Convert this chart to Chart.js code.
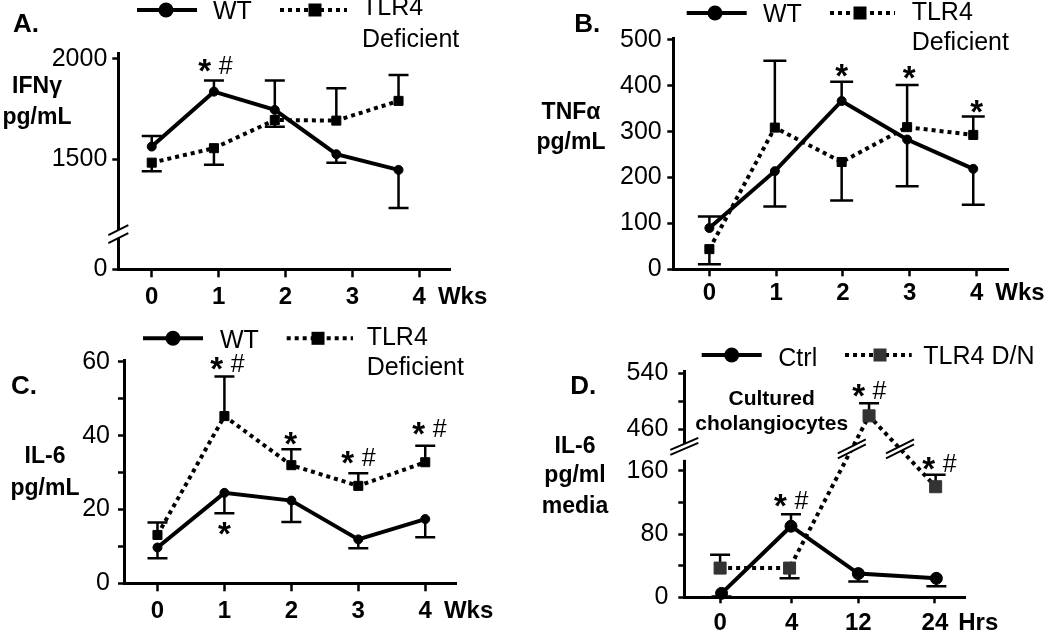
<!DOCTYPE html>
<html>
<head>
<meta charset="utf-8">
<script src="https://cdn.jsdelivr.net/npm/chart.js@4.4.1/dist/chart.umd.min.js"></script>
<style>
  html, body { margin: 0; padding: 0; background: #fff; }
  #wrap { position: relative; width: 1050px; height: 633px; overflow: hidden; }
  .panel { position: absolute; }
</style>
</head>
<body>
<div id="wrap"></div>
<script>
// ---- data ----
// A. IFNγ (pg/mL), weeks
const weekTicks = [0, 1, 2, 3, 4];
const weekLabels = ['0', '1', '2', '3', '4'];
const ifnX = [0, 0.93, 1.84, 2.76, 3.69];
const ifnWT = [1563, 1836, 1745, 1525, 1447];
const ifnWTErr = [1616, 1891, 1891, 1483, 1258];
const ifnTLR4 = [1483, 1555, 1695, 1692, 1790];
const ifnTLR4Err = [1440, 1472, 1662, 1853, 1919];
const ifnYTicks = [0, 1500, 2000];
const ifnYLabels = ['0', '1500', '2000'];

// B. TNFα (pg/mL)
const tnfX = [0, 0.98, 1.98, 2.96, 3.95];
const tnfWT = [90, 214, 367, 283, 219];
const tnfWTErr = [115, 137, 409, 181, 141];
const tnfTLR4 = [44, 309, 234, 310, 293];
const tnfTLR4Err = [11, 455, 150, 402, 333];
const tnfYTicks = [0, 100, 200, 300, 400, 500];
const tnfYLabels = ['0', '100', '200', '300', '400', '500'];

// C. IL-6 (pg/mL) in vivo
const il6X = [0, 1, 2, 3, 4];
const il6WT = [9.7, 24.5, 22.4, 11.9, 17.4];
const il6WTErr = [6.8, 19, 16.6, 9.5, 12.5];
const il6TLR4 = [13.1, 45.3, 32, 26.4, 32.8];
const il6TLR4Err = [16.5, 56, 36.3, 29.8, 37.3];
const il6YTicks = [0, 10, 20, 30, 40, 50, 60];
const il6YLabels = ['0', '', '20', '', '40', '', '60'];

// D. IL-6 (pg/ml media), cultured cholangiocytes, hours
const hourTicks = [0, 1, 1.93, 3];
const hourLabels = ['0', '4', '12', '24'];
const cellCtrlX = [0.02, 0.99, 1.93, 3.02];
const cellCtrl = [5, 90, 30, 24];
const cellCtrlErr = [1, 105, 20, 14];
const cellTLR4X = [0, 0.97, 2.08, 3.01];
const cellTLR4 = [37, 37, 479, 140];
const cellTLR4Err = [54, 24, 497, 155];
const cellYTicks = [0, 40, 80, 120, 160, 460, 500, 540];
const cellYLabels = ['0', '', '80', '', '160', '460', '', '540'];

// significance marks: [x, y, marks]
const ifnMarks = [[0.95, 1968, '*#']];
const tnfMarks = [[1.98, 435, '*'], [2.99, 430, '*'], [4.0, 356, '*']];
const il6Marks = [[1.04, 59.6, '*#'], [1.0, 14.9, '*'], [1.99, 39.3, '*'], [3.0, 34.3, '*#'], [4.06, 42, '*#']];
const cellMarks = [[0.99, 123, '*#'], [2.08, 516, '*#'], [3.06, 175, '*#']];

// ---- broken axes ----
const toIfn = v => v >= 1200 ? v - 953 : v * 247 / 1200;
const toCell = v => {
  if (v <= 170) return v;
  if (v >= 440) return 213 + (v - 460) * 0.881;
  return 170 + (v - 170) * 25.4 / 270;
};

const FONT = '"Liberation Sans", Arial, sans-serif';
const wrap = document.getElementById('wrap');

function star(ctx, x, y) {
  ctx.font = 'bold 33px ' + FONT;
  ctx.textAlign = 'center';
  ctx.textBaseline = 'alphabetic';
  ctx.fillText('*', x, y + 17);
}
function hash(ctx, x, y) {
  ctx.font = '25px ' + FONT;
  ctx.textAlign = 'center';
  ctx.textBaseline = 'alphabetic';
  ctx.fillText('#', x, y + 9);
}

function slashPair(ctx, cx, cy, dx, dy, sep) {
  ctx.save();
  ctx.fillStyle = '#fff';
  ctx.beginPath();
  ctx.moveTo(cx - dx, cy + dy - sep / 2);
  ctx.lineTo(cx + dx, cy - dy - sep / 2);
  ctx.lineTo(cx + dx, cy - dy + sep / 2);
  ctx.lineTo(cx - dx, cy + dy + sep / 2);
  ctx.closePath();
  ctx.fill();
  ctx.strokeStyle = '#000';
  ctx.lineWidth = 2;
  ctx.setLineDash([]);
  [-sep / 2, sep / 2].forEach(o => {
    ctx.beginPath();
    ctx.moveTo(cx - dx, cy + dy + o);
    ctx.lineTo(cx + dx, cy - dy + o);
    ctx.stroke();
  });
  ctx.restore();
}

function makePanel(p) {
  const div = document.createElement('div');
  div.className = 'panel';
  div.style.left = p.ox + 'px';
  div.style.top = p.oy + 'px';
  const cv = document.createElement('canvas');
  cv.width = p.w; cv.height = p.h;
  cv.style.width = p.w + 'px'; cv.style.height = p.h + 'px';
  div.appendChild(cv);
  wrap.appendChild(div);

  const f = p.f || (v => v);
  const datasets = p.series.map(s => ({
    label: s.label,
    data: s.y.map((v, i) => ({ x: s.x[i], y: f(v) })),
    err: s.err.map(f),
    borderColor: '#000',
    borderWidth: 4,
    borderDash: s.dotted ? [4, 4] : [],
    borderCapStyle: 'butt',
    pointStyle: s.dotted ? 'rect' : 'circle',
    pointRadius: s.r,
    pointHoverRadius: s.r,
    pointBackgroundColor: s.fill,
    pointBorderColor: s.fill,
    pointBorderWidth: 1,
    tension: 0,
    fill: false,
    clip: false
  }));

  const ca = p.area;
  const yW = 90; // wide enough that tick labels are not squeezed

  const decor = {
    id: 'decor',
    beforeDatasetsDraw(chart) {
      const ctx = chart.ctx, ys = chart.scales.y;
      ctx.save();
      ctx.strokeStyle = '#000';
      ctx.lineWidth = 2.5;
      chart.data.datasets.forEach((ds, i) => {
        chart.getDatasetMeta(i).data.forEach((pt, j) => {
          const ey = ys.getPixelForValue(ds.err[j]);
          ctx.beginPath();
          ctx.moveTo(pt.x, pt.y); ctx.lineTo(pt.x, ey);
          ctx.moveTo(pt.x - p.cap / 2, ey); ctx.lineTo(pt.x + p.cap / 2, ey);
          ctx.stroke();
        });
      });
      ctx.restore();
    },
    afterDraw(chart) {
      const ctx = chart.ctx, xs = chart.scales.x, ys = chart.scales.y, a = chart.chartArea;
      ctx.save();
      ctx.fillStyle = '#000';

      // unit after the last x label
      ctx.font = 'bold 24px ' + FONT;
      const lastV = p.xTicks[p.xTicks.length - 1];
      const lastL = p.xLabels[p.xLabels.length - 1];
      const lx = xs.getPixelForValue(lastV) + ctx.measureText(lastL).width / 2 + p.unitGap;
      ctx.textAlign = 'left';
      ctx.textBaseline = 'middle';
      ctx.fillText(p.unit, lx, p.labelY);

      // axis break
      if (p.axisBreak) {
        const b = p.axisBreak;
        if (b.gap) {
          ctx.fillStyle = '#fff';
          const y1 = ys.getPixelForValue(b.gap[1]), y2 = ys.getPixelForValue(b.gap[0]);
          ctx.fillRect(a.left - 4, y1, 8, y2 - y1);
          ctx.fillStyle = '#000';
        }
        slashPair(ctx, a.left, ys.getPixelForValue(b.at), b.dx, b.dy, b.sep);
      }

      // breaks on a data line
      if (p.lineBreak) {
        const lb = p.lineBreak;
        const ds = chart.data.datasets[lb.dataset];
        const pts = chart.getDatasetMeta(lb.dataset).data;
        for (let j = 0; j < pts.length - 1; j++) {
          const d0 = ds.data[j].y, d1 = ds.data[j + 1].y;
          if ((d0 - lb.at) * (d1 - lb.at) < 0) {
            const t = (lb.at - d0) / (d1 - d0);
            const cx = pts[j].x + t * (pts[j + 1].x - pts[j].x);
            const cy = pts[j].y + t * (pts[j + 1].y - pts[j].y);
            slashPair(ctx, cx, cy, 14, 7, 5);
          }
        }
      }

      // significance marks
      ctx.fillStyle = '#000';
      p.marks.forEach(m => {
        const mx = xs.getPixelForValue(m[0]), my = ys.getPixelForValue(f(m[1]));
        if (m[2] === '*#') { star(ctx, mx - 10.5, my); hash(ctx, mx + 10.5, my); }
        else star(ctx, mx, my);
      });

      // legend samples
      p.legend.forEach(l => {
        const ds = chart.data.datasets[l.dataset];
        ctx.strokeStyle = '#000';
        ctx.lineWidth = 4;
        ctx.setLineDash(ds.borderDash);
        ctx.beginPath();
        ctx.moveTo(l.x1, l.y); ctx.lineTo(l.x2, l.y);
        ctx.stroke();
        ctx.setLineDash([]);
        ctx.fillStyle = ds.pointBackgroundColor;
        if (ds.pointStyle === 'circle') {
          ctx.beginPath(); ctx.arc(l.mx, l.y, 7.5, 0, Math.PI * 2); ctx.fill();
        } else {
          ctx.fillRect(l.mx - 6.5, l.y - 6.5, 13, 13);
        }
      });

      // texts
      ctx.fillStyle = '#000';
      ctx.textBaseline = 'middle';
      p.texts.forEach(t => {
        ctx.font = t[4] + ' ' + FONT;
        ctx.textAlign = t[3];
        ctx.fillText(t[0], t[1], t[2]);
      });
      ctx.restore();
    }
  };

  new Chart(cv, {
    type: 'line',
    data: { datasets },
    options: {
      responsive: false,
      animation: false,
      events: [],
      layout: { padding: { left: ca.l - yW, top: ca.t, right: p.w - ca.r, bottom: 0 } },
      plugins: { legend: { display: false }, tooltip: { enabled: false } },
      scales: {
        x: {
          type: 'linear',
          min: p.xMin, max: p.xMax,
          afterBuildTicks: s => { s.ticks = p.xTicks.map(v => ({ value: v })); },
          afterFit: s => { s.height = p.h - ca.b; },
          ticks: {
            autoSkip: false, maxRotation: 0, color: '#000',
            padding: p.xPad,
            font: { family: FONT, size: 24, weight: 'bold' },
            callback: (v, i) => p.xLabels[i]
          },
          grid: { drawOnChartArea: false, drawTicks: true, tickLength: p.xTick, tickWidth: 2.5, tickColor: '#000' },
          border: { display: true, color: '#000', width: 3 }
        },
        y: {
          type: 'linear',
          min: 0, max: p.yMax,
          afterBuildTicks: s => { s.ticks = p.yTicks.map(v => ({ value: f(v) })); },
          afterFit: s => { s.width = yW; },
          ticks: {
            autoSkip: false, color: '#000',
            padding: p.yPad,
            font: { family: FONT, size: 25 },
            callback: (v, i) => p.yLabels[i]
          },
          grid: { drawOnChartArea: false, drawTicks: true, tickLength: 6, tickWidth: 2.5, tickColor: '#000' },
          border: { display: true, color: '#000', width: 3 }
        }
      }
    },
    plugins: [decor]
  });
}

const TITLE = 'bold 26px', YLAB = 'bold 23px', LEG = '25px';

makePanel({
  ox: 0, oy: 0, w: 525, h: 310,
  area: { l: 118.3, t: 53, r: 450.7, b: 269.3 },
  f: toIfn, yMax: 1075, yTicks: ifnYTicks, yLabels: ifnYLabels, yPad: 5,
  xMin: -0.5, xMax: 4.47, xTicks: weekTicks, xLabels: weekLabels, xPad: 6, xTick: 8,
  unit: 'Wks', unitGap: 12, labelY: 297.7, cap: 20,
  series: [
    { label: 'WT', x: ifnX, y: ifnWT, err: ifnWTErr, dotted: false, r: 4.5, fill: '#000' },
    { label: 'TLR4 Deficient', x: ifnX, y: ifnTLR4, err: ifnTLR4Err, dotted: true, r: 6.4, fill: '#000' }
  ],
  axisBreak: { at: 175, dx: 10, dy: 5, sep: 8 },
  marks: ifnMarks,
  legend: [{ dataset: 0, x1: 137, x2: 197, mx: 166, y: 10 }, { dataset: 1, x1: 280, x2: 347, mx: 315, y: 10 }],
  texts: [
    ['A.', 26, 25, 'center', TITLE],
    ['IFNγ', 37, 87, 'center', YLAB], ['pg/mL', 37, 118, 'center', YLAB],
    ['WT', 213, 12, 'left', LEG], ['TLR4', 362, 8, 'left', LEG], ['Deficient', 362, 40, 'left', LEG]
  ]
});

makePanel({
  ox: 525, oy: 0, w: 525, h: 310,
  area: { l: 148.3, t: 38.3, r: 483, b: 269.3 },
  yMax: 503.7, yTicks: tnfYTicks, yLabels: tnfYLabels, yPad: 5.6,
  xMin: -0.54, xMax: 4.47, xTicks: weekTicks, xLabels: weekLabels, xPad: 2.6, xTick: 7,
  unit: 'Wks', unitGap: 12, labelY: 293.3, cap: 23,
  series: [
    { label: 'WT', x: tnfX, y: tnfWT, err: tnfWTErr, dotted: false, r: 4.5, fill: '#000' },
    { label: 'TLR4 Deficient', x: tnfX, y: tnfTLR4, err: tnfTLR4Err, dotted: true, r: 6.4, fill: '#000' }
  ],
  marks: tnfMarks,
  legend: [{ dataset: 0, x1: 161.7, x2: 221.7, mx: 190, y: 13 }, { dataset: 1, x1: 305, x2: 370, mx: 335, y: 13 }],
  texts: [
    ['B.', 62.3, 25, 'center', TITLE],
    ['TNFα', 46, 113, 'center', YLAB], ['pg/mL', 46, 143, 'center', YLAB],
    ['WT', 238, 15, 'left', LEG], ['TLR4', 386.7, 13, 'left', LEG], ['Deficient', 386.7, 43, 'left', LEG]
  ]
});

makePanel({
  ox: 0, oy: 310, w: 525, h: 323,
  area: { l: 124, t: 50, r: 456.7, b: 273.3 },
  yMax: 60.5, yTicks: il6YTicks, yLabels: il6YLabels, yPad: 8,
  xMin: -0.5, xMax: 4.47, xTicks: weekTicks, xLabels: weekLabels, xPad: 6, xTick: 8,
  unit: 'Wks', unitGap: 12, labelY: 301.7, cap: 20,
  series: [
    { label: 'WT', x: il6X, y: il6WT, err: il6WTErr, dotted: false, r: 4.5, fill: '#000' },
    { label: 'TLR4 Deficient', x: il6X, y: il6TLR4, err: il6TLR4Err, dotted: true, r: 6.4, fill: '#000' }
  ],
  marks: il6Marks,
  legend: [{ dataset: 0, x1: 143, x2: 203, mx: 173, y: 28.3 }, { dataset: 1, x1: 286.7, x2: 353, mx: 318, y: 28.3 }],
  texts: [
    ['C.', 24, 77.3, 'center', TITLE],
    ['IL-6', 45, 146.7, 'center', YLAB], ['pg/mL', 45, 178.3, 'center', YLAB],
    ['WT', 220, 30.7, 'left', LEG], ['TLR4', 366.7, 28.3, 'left', LEG], ['Deficient', 366.7, 58.3, 'left', LEG]
  ]
});

makePanel({
  ox: 525, oy: 310, w: 525, h: 323,
  area: { l: 159.3, t: 61, r: 440, b: 287.3 },
  f: toCell, yMax: 286.5, yTicks: cellYTicks, yLabels: cellYLabels, yPad: 10,
  xMin: -0.5, xMax: 3.42, xTicks: hourTicks, xLabels: hourLabels, xPad: 5.6, xTick: 6,
  unit: 'Hrs', unitGap: 10, labelY: 313.3, cap: 20,
  series: [
    { label: 'Ctrl', x: cellCtrlX, y: cellCtrl, err: cellCtrlErr, dotted: false, r: 6, fill: '#000' },
    { label: 'TLR4 D/N', x: cellTLR4X, y: cellTLR4, err: cellTLR4Err, dotted: true, r: 8.5, fill: '#333' }
  ],
  axisBreak: { at: 191, gap: [174, 189], dx: 14, dy: 6, sep: 5 },
  lineBreak: { dataset: 1, at: 188 },
  marks: cellMarks,
  legend: [{ dataset: 0, x1: 176.7, x2: 236.7, mx: 206.7, y: 45 }, { dataset: 1, x1: 320, x2: 386.7, mx: 355, y: 45 }],
  texts: [
    ['D.', 58.3, 76.7, 'center', TITLE],
    ['IL-6', 50, 136.7, 'center', YLAB], ['pg/ml', 50, 165.7, 'center', YLAB], ['media', 50, 196.7, 'center', YLAB],
    ['Cultured', 246.7, 89.3, 'center', 'bold 21px'], ['cholangiocytes', 246.7, 114.3, 'center', 'bold 21px'],
    ['Ctrl', 253.3, 49.3, 'left', LEG], ['TLR4 D/N', 398.3, 46.7, 'left', LEG]
  ]
});
</script>
</body>
</html>
